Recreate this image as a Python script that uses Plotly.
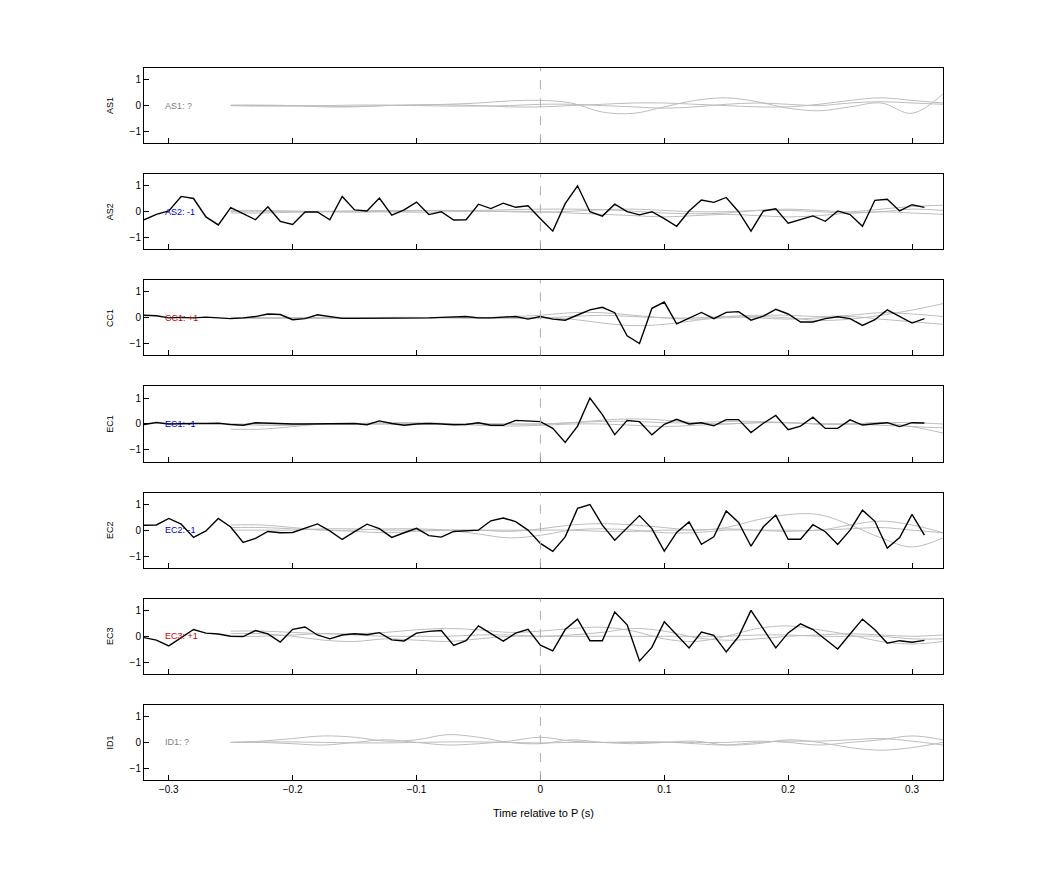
import numpy as np
import plotly.graph_objects as go
from plotly.subplots import make_subplots

# black trace sample times (s) and gray template times
t = np.round(np.arange(-0.32, 0.315, 0.01), 3)
tg = np.round(np.arange(-0.25, 0.33, 0.025), 3)

stations = ['AS1', 'AS2', 'CC1', 'EC1', 'EC2', 'EC3', 'ID1']
labels = ['AS1: ?', 'AS2: -1', 'CC1: +1', 'EC1: -1', 'EC2: -1', 'EC3: +1', 'ID1: ?']
label_colors = ['#808080', '#0000cc', '#cc0000', '#0000cc', '#0000cc', '#cc0000', '#808080']

as2 = [-0.31, -0.1, 0.03, 0.59, 0.51, -0.2, -0.51, 0.16, -0.07, -0.31, 0.19, -0.37, -0.49, -0.01, -0.01, -0.31,
       0.59, 0.07, 0.03, 0.53, -0.13, 0.07, 0.37, -0.11, 0.0, -0.32, -0.31, 0.29, 0.12, 0.33, 0.17, 0.23,
       -0.27,
       -0.75, 0.31, 1.0, 0.0, -0.17, 0.29, 0.0, -0.12, 0.0, -0.27, -0.56, 0.03, 0.45, 0.36, 0.55, 0.0,
       -0.75, 0.03, 0.11, -0.44, -0.31, -0.16, -0.37, 0.03, -0.11, -0.56, 0.44, 0.48, 0.03, 0.27, 0.17]
cc1 = [0.1, 0.08, 0.0, 0.02, 0.0, 0.03, 0.0, -0.03, 0.0, 0.05, 0.15, 0.13, -0.07, -0.03, 0.12, 0.05,
       -0.02, -0.02, -0.02, -0.02, -0.02, -0.01, -0.01, 0.0, 0.02, 0.04, 0.05, 0.0, 0.0, 0.03, 0.05, -0.05,
       0.05,
       -0.05, -0.09, 0.11, 0.31, 0.41, 0.2, -0.69, -0.99, 0.37, 0.61, -0.23, 0.0, 0.21, -0.03, 0.21, 0.24,
       -0.09, 0.07, 0.33, 0.15, -0.16, -0.16, -0.03, 0.04, -0.03, -0.29, -0.07, 0.31, 0.04, -0.2, -0.03]
ec1 = [-0.02, 0.06, 0.0, 0.02, 0.02, 0.02, 0.03, -0.02, -0.05, 0.05, 0.03, 0.0, 0.0, 0.0, 0.0, 0.0,
       0.0, 0.02, -0.03, 0.12, 0.02, -0.05, 0.0, 0.02, 0.0, -0.03, -0.02, 0.05, -0.05, -0.05, 0.14, 0.12,
       0.09,
       -0.17, -0.71, -0.08, 1.0, 0.36, -0.41, 0.14, 0.09, -0.42, -0.01, 0.18, 0.0, 0.05, -0.07, 0.17, 0.17,
       -0.33, 0.03, 0.33, -0.22, -0.08, 0.26, -0.17, -0.17, 0.16, -0.04, 0.01, 0.05, -0.1, 0.05, 0.04]
ec2 = [0.19, 0.2, 0.45, 0.23, -0.28, -0.03, 0.45, 0.12, -0.47, -0.32, -0.05, -0.1, -0.09, 0.08, 0.24, -0.03,
       -0.36, -0.06, 0.23, 0.06, -0.28, -0.1, 0.07, -0.21, -0.27, -0.05, -0.03, 0.0, 0.36, 0.47, 0.33, 0.0,
       -0.51,
       -0.82, -0.26, 0.84, 0.99, 0.19, -0.39, 0.08, 0.56, 0.06, -0.81, -0.09, 0.32, -0.55, -0.26, 0.74, 0.3,
       -0.62, 0.13, 0.58, -0.35, -0.35, 0.21, -0.06, -0.55, 0.0, 0.77, 0.34, -0.69, -0.29, 0.61, -0.19]
ec3 = [-0.05, -0.15, -0.37, -0.05, 0.26, 0.12, 0.09, 0.0, -0.01, 0.22, 0.09, -0.22, 0.27, 0.36, 0.05, -0.1,
       0.05, 0.1, 0.06, 0.14, -0.14, -0.18, 0.12, 0.19, 0.22, -0.35, -0.17, 0.4, 0.09, -0.19, 0.12, 0.27,
       -0.34,
       -0.56, 0.26, 0.66, -0.17, -0.17, 0.94, 0.44, -0.95, -0.43, 0.56, 0.06, -0.45, 0.16, 0.04, -0.6, -0.01,
       1.0, 0.29, -0.45, 0.13, 0.48, 0.26, -0.1, -0.49, 0.09, 0.66, 0.25, -0.27, -0.17, -0.23, -0.16]
black = {'AS2': as2, 'CC1': cc1, 'EC1': ec1, 'EC2': ec2, 'EC3': ec3}

# gray template waveforms, sampled on tg
gray = {
    'AS1': [[0, 0, 0, -0.02, -0.03, 0, 0.02, 0.05, 0.1, 0.18, 0.2, 0.1, -0.25, -0.3, -0.05, 0.2, 0.3, 0.15, -0.1, -0.2, -0.05, 0.1, -0.3, 0.45],
            [0.02, 0.02, 0.0, -0.05, -0.05, 0.0, 0.03, 0.03, 0.0, -0.05, -0.05, 0.0, 0.05, 0.1, 0.1, 0.05, 0.0, -0.05, -0.05, 0.05, 0.2, 0.3, 0.2, 0.1],
            [0, -0.02, -0.02, 0, 0.02, 0.02, 0, -0.02, -0.02, 0, 0.05, 0.05, 0, -0.05, -0.1, -0.05, 0.05, 0.1, 0.05, 0.0, 0.1, 0.15, 0.1, 0.05]],
    'AS2': [[-0.05, -0.05, -0.02, 0.0, 0.03, 0.05, 0.05, 0.05, 0.05, 0.08, 0.1, 0.1, 0.08, 0.02, -0.05, -0.08, -0.05, 0.05, 0.1, 0.05, 0.0, 0.1, 0.2, 0.25],
            [0.05, 0.05, 0.03, 0.0, -0.02, 0.0, 0.03, 0.05, 0.03, 0.0, -0.02, 0.02, 0.08, 0.1, 0.05, 0.0, 0.0, 0.05, 0.05, 0.0, -0.05, 0.0, 0.1, 0.05],
            [0.0, 0.0, 0.0, 0.02, 0.02, 0.0, -0.02, 0.0, 0.02, 0.02, 0.0, -0.05, -0.1, -0.15, -0.2, -0.15, -0.1, -0.15, -0.2, -0.15, -0.05, 0.0, -0.05, -0.1]],
    'CC1': [[0.0, 0.0, -0.02, -0.02, 0.0, 0.02, 0.02, 0.0, 0.0, 0.05, 0.1, 0.2, 0.2, 0.1, 0.0, -0.05, 0.0, 0.05, 0.0, -0.1, -0.05, 0.1, 0.3, 0.55],
            [0.02, 0.0, 0.0, 0.02, 0.02, 0.0, 0.0, 0.02, 0.02, 0.0, 0.0, -0.05, -0.2, -0.3, -0.25, -0.1, 0.05, 0.1, 0.1, 0.05, 0.1, 0.2, 0.15, 0.05],
            [-0.02, -0.02, 0.0, 0.0, -0.02, -0.02, 0.0, 0.0, -0.02, -0.02, 0.0, 0.05, 0.1, 0.05, 0.0, 0.0, 0.05, 0.0, -0.05, 0.0, 0.05, -0.05, -0.15, -0.25]],
    'EC1': [[-0.2, -0.2, -0.1, 0.0, 0.0, 0.0, 0.0, 0.02, 0.02, 0.0, 0.0, 0.05, 0.15, 0.2, 0.15, 0.05, 0.0, 0.05, 0.05, 0.0, 0.0, 0.05, -0.1, -0.35],
            [0.0, -0.05, -0.05, 0.0, 0.02, 0.05, 0.05, 0.02, -0.05, -0.08, -0.05, 0.0, 0.0, -0.05, -0.1, -0.05, 0.0, 0.05, 0.05, 0.0, 0.0, 0.05, 0.05, 0.0],
            [0.0, 0.0, 0.0, 0.0, 0.0, 0.0, 0.02, 0.02, 0.0, 0.0, 0.0, 0.05, 0.1, 0.1, 0.05, 0.05, 0.1, 0.1, 0.05, 0.0, 0.0, -0.05, -0.1, -0.15]],
    'EC2': [[0.1, 0.1, 0.05, 0.0, -0.05, -0.1, -0.05, 0.0, 0.0, -0.05, 0.05, 0.2, 0.25, 0.2, 0.1, 0.0, 0.1, 0.4, 0.6, 0.6, 0.2, -0.3, -0.65, -0.3],
            [0.2, 0.2, 0.1, 0.0, 0.0, 0.05, 0.05, 0.0, -0.15, -0.3, -0.2, 0.0, 0.05, 0.0, -0.1, -0.1, 0.0, 0.0, 0.0, 0.0, 0.2, 0.35, 0.2, -0.1],
            [0.0, 0.0, 0.0, 0.05, 0.05, 0.0, 0.0, 0.0, 0.0, 0.0, 0.0, 0.0, -0.05, -0.05, 0.0, 0.0, 0.05, 0.0, -0.05, 0.0, 0.05, 0.1, 0.0, -0.1]],
    'EC3': [[0.2, 0.2, 0.15, 0.1, 0.1, 0.15, 0.25, 0.3, 0.25, 0.15, 0.2, 0.3, 0.35, 0.2, -0.1, -0.2, 0.0, 0.3, 0.4, 0.25, 0.05, -0.2, -0.3, -0.2],
            [0.1, 0.1, 0.0, -0.15, -0.2, -0.1, -0.15, -0.2, -0.1, 0.0, 0.0, 0.05, 0.15, 0.3, 0.2, -0.05, -0.15, -0.1, 0.0, 0.05, 0.1, 0.05, 0.0, 0.05],
            [0.0, 0.0, 0.05, 0.1, 0.05, 0.0, 0.0, 0.0, 0.05, 0.05, 0.0, 0.0, 0.0, 0.0, 0.0, 0.0, 0.0, 0.05, 0.05, 0.0, 0.0, 0.0, -0.1, -0.1]],
    'ID1': [[0, 0.05, 0.15, 0.25, 0.2, 0.05, 0.1, 0.3, 0.2, 0.0, -0.05, 0.1, 0.0, -0.05, 0.0, 0.05, -0.1, -0.05, 0.1, 0.0, -0.2, -0.3, -0.2, 0.0],
            [0, 0, -0.05, -0.1, 0.0, 0.1, 0.0, -0.1, -0.05, 0.05, 0.2, 0.05, 0.0, 0.0, 0.0, 0.0, 0.0, 0.05, 0.0, -0.1, 0.0, 0.1, 0.25, 0.1],
            [0.0, 0.02, 0.02, 0, -0.02, -0.02, 0, 0.02, 0.02, 0.0, -0.02, 0, 0, 0.02, 0.02, -0.05, -0.1, 0, 0.05, 0.05, 0.1, 0.15, 0.05, -0.1]],
}

fig = make_subplots(rows=7, cols=1, shared_xaxes=True, vertical_spacing=0.0435)

for i, st in enumerate(stations):
    r = i + 1
    for g in gray[st]:
        fig.add_trace(go.Scatter(x=tg, y=g, mode='lines', line=dict(color='#bdbdbd', width=1, shape='spline'),
                                 showlegend=False, hoverinfo='skip'), row=r, col=1)
    if st in black:
        fig.add_trace(go.Scatter(x=t, y=black[st], mode='lines', line=dict(color='black', width=1.4),
                                 showlegend=False), row=r, col=1)
    fig.add_vline(x=0, line=dict(color='#b8a8a8', width=1, dash='dash'), row=r, col=1)
    fig.add_annotation(x=-0.305, y=0, text=labels[i], showarrow=False, xanchor='left',
                       font=dict(size=9, color=label_colors[i]), row=r, col=1)
    fig.update_yaxes(title_text=st, row=r, col=1)

fig.update_xaxes(range=[-0.32, 0.325], showline=True, mirror=True, linecolor='black', linewidth=1,
                 ticks='inside', ticklen=5, tickcolor='black', tickvals=[-0.3, -0.2, -0.1, 0, 0.1, 0.2, 0.3],
                 showgrid=False, zeroline=False, tickfont=dict(size=10))
fig.update_xaxes(title_text='Time relative to P (s)', title_font=dict(size=11), row=7, col=1)
fig.update_yaxes(range=[-1.45, 1.45], tickvals=[-1, 0, 1], showline=True, mirror=True, linecolor='black',
                 linewidth=1, ticks='inside', ticklen=5, tickcolor='black', showgrid=False, zeroline=False,
                 tickfont=dict(size=10), title_font=dict(size=9), title_standoff=14)

fig.update_layout(width=1042, height=875, plot_bgcolor='white', paper_bgcolor='white',
                  margin=dict(l=136, r=107, t=60, b=103),
                  font=dict(family='Liberation Sans, Arial, sans-serif', color='black'))

fig.write_html("out.html")
